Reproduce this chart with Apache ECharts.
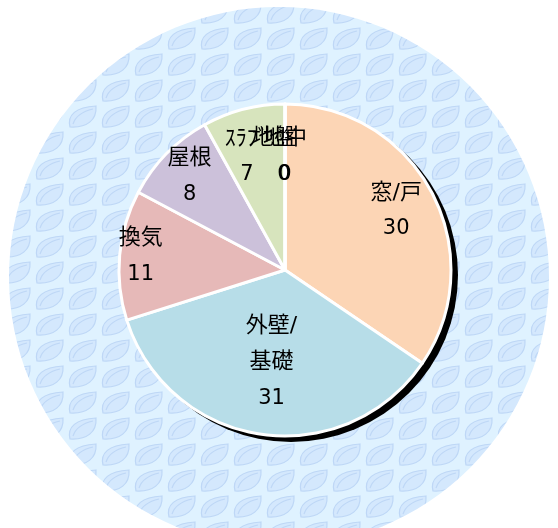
<!DOCTYPE html>
<html lang="ja">
<head>
    <meta charset="UTF-8">
    <title></title>
    <script src="https://cdn.jsdelivr.net/npm/echarts@6/dist/echarts.min.js"></script>
    <style>
        html, body {
            margin: 0;
            padding: 0;
            background: #fff;
        }
        #chart {
            width: 558px;
            height: 528px;
        }
    </style>
</head>
<body>
<div id="chart"></div>
<script>
    // データ
    var categories = ['窓/戸', '外壁/基礎', '換気', '屋根', 'ｽﾗﾌﾞ', '地盤', '地中'];
    var values = [30, 31, 11, 8, 7, 0, 0];
    var colors = ['#fcd5b5', '#b7dde8', '#e6b9b8', '#ccc1da', '#d7e4bd', '#ccc1da', '#fcd5b5'];

    // ラベルの中心からの距離(px)と左右のずれ
    var labelDist = [126, 93, 145, 134, 117, 114, 114];
    var labelShiftX = [0, 0, 0, 0, -9, -1, 0];

    var cx = 285, cy = 270, R = 166;
    var FONT = "'DejaVu Sans', 'Noto Sans CJK JP'";

    // 背景の葉っぱ模様
    var tile = document.createElement('canvas');
    tile.width = 33;
    tile.height = 26;
    var g = tile.getContext('2d');
    g.fillStyle = '#dff2ff';
    g.fillRect(0, 0, 33, 26);
    g.beginPath();
    g.moveTo(4, 23);
    g.bezierCurveTo(1, 11, 10, 3, 30, 2);
    g.bezierCurveTo(31, 16, 21, 24, 4, 23);
    g.closePath();
    g.fillStyle = '#d4e8fd';
    g.fill();
    g.strokeStyle = '#bed7f6';
    g.lineWidth = 1.2;
    g.stroke();
    g.beginPath();
    g.moveTo(7, 20);
    g.bezierCurveTo(10, 11, 18, 7, 27, 5);
    g.stroke();

    var total = values.reduce(function (a, b) { return a + b; }, 0);

    var chart = echarts.init(document.getElementById('chart'));

    function richStyle(pad) {
        return {
            n: {fontSize: 22, fontFamily: FONT, color: '#000', lineHeight: 36, padding: pad || 0},
            v: {fontSize: 21, fontFamily: FONT, color: '#000', lineHeight: 36}
        };
    }

    var pieData = categories.map(function (name, i) {
        var item = {
            name: name,
            value: values[i],
            itemStyle: {color: colors[i]}
        };
        if (i === 5) {
            // 重なったラベルを少し左へ
            item.label = {rich: richStyle([0, 20, 0, 0])};
        }
        return item;
    });

    var option = {
        animation: false,
        graphic: [{
            type: 'circle',
            z: -10,
            silent: true,
            shape: {cx: 279, cy: 277, r: 270},
            style: {fill: {image: tile, repeat: 'repeat'}}
        }],
        series: [{
            // 影
            type: 'pie',
            silent: true,
            z: 1,
            center: [cx + 6, cy + 5],
            radius: R + 1,
            label: {show: false},
            labelLine: {show: false},
            itemStyle: {color: '#000'},
            data: [{name: '', value: total}]
        }, {
            type: 'pie',
            z: 2,
            center: [cx, cy],
            radius: R,
            startAngle: 90,
            clockwise: true,
            avoidLabelOverlap: false,
            itemStyle: {
                borderColor: '#fff',
                borderWidth: 3
            },
            label: {
                show: true,
                position: 'inside',
                formatter: function (p) {
                    var n = p.name.replace('/基', '/\n基');
                    return n.split('\n').map(function (s) { return '{n|' + s + '}'; }).join('\n') + '\n{v|' + p.value + '}';
                },
                rich: richStyle()
            },
            labelLayout: function (p) {
                var r = p.labelRect;
                var lx = r.x + r.width / 2;
                var ly = r.y + r.height / 2;
                var d = Math.sqrt((lx - cx) * (lx - cx) + (ly - cy) * (ly - cy)) || 1;
                var k = labelDist[p.dataIndex] / d;
                return {
                    dx: (lx - cx) * (k - 1) + labelShiftX[p.dataIndex],
                    dy: (ly - cy) * (k - 1)
                };
            },
            data: pieData
        }]
    };

    chart.setOption(option);
</script>
</body>
</html>
